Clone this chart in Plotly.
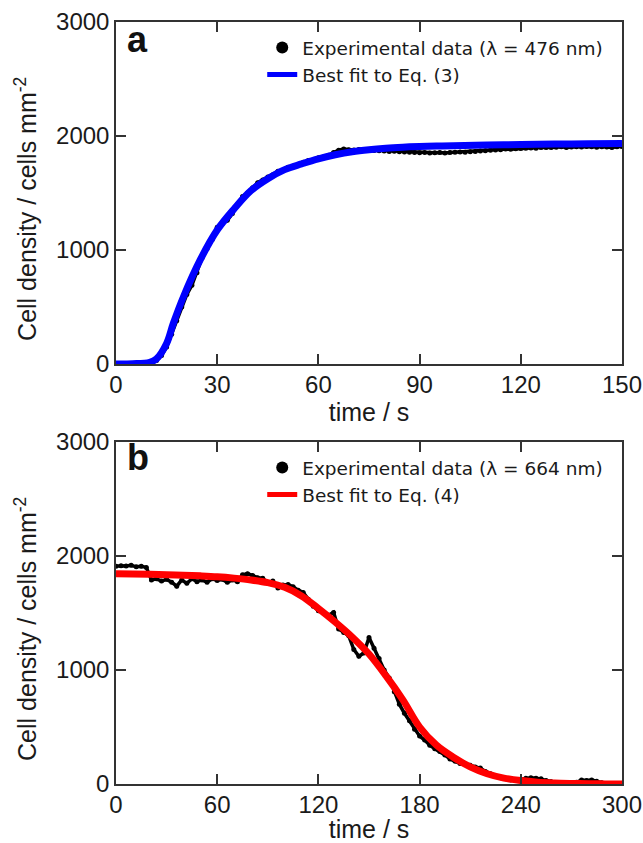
import plotly.graph_objects as go
from plotly.subplots import make_subplots

# ---------------- Panel a data (λ = 476 nm) ----------------
t_a_exp = [i * 1.5 for i in range(101)]
y_a_exp = [0, 2, 0, 3, 0, 4, 2, 8, 30, 75, 150, 260, 380, 500, 610, 690, 800, 930, 1010, 1090,
           1200, 1230, 1260, 1320, 1400, 1470, 1500, 1545, 1590, 1615, 1640, 1660, 1690, 1700, 1725,
           1735, 1750, 1770, 1785, 1790, 1810, 1815, 1830, 1855, 1875, 1885, 1880, 1878, 1882, 1880,
           1875, 1872, 1870, 1868, 1865, 1866, 1862, 1860, 1858, 1855, 1852, 1855, 1850, 1852, 1855,
           1850, 1855, 1858, 1860, 1858, 1862, 1865, 1868, 1870, 1875, 1878, 1880, 1885, 1883, 1888,
           1890, 1892, 1895, 1893, 1898, 1900, 1898, 1902, 1905, 1900, 1903, 1906, 1904, 1908, 1905,
           1902, 1906, 1904, 1900, 1905, 1908]

t_a_fit = [0, 5, 10, 12, 15, 17, 20, 25, 30, 35, 40, 45, 50, 55, 60, 65, 70, 75, 80, 85, 90,
           95, 100, 110, 120, 130, 140, 150]
y_a_fit = [0, 2, 15, 45, 180, 357, 590, 915, 1175, 1360, 1520, 1625, 1705, 1755, 1800, 1835,
           1862, 1880, 1893, 1902, 1908, 1912, 1915, 1920, 1925, 1929, 1932, 1935]

# ---------------- Panel b data (λ = 664 nm) ----------------
t_b_exp = [i * 3 for i in range(101)]
y_b_exp = [1910, 1915, 1912, 1918, 1905, 1910, 1900, 1790, 1800, 1780, 1795, 1770, 1735, 1790,
           1760, 1800, 1775, 1790, 1770, 1800, 1785, 1795, 1770, 1790, 1775, 1835, 1845, 1830,
           1810, 1805, 1760, 1780, 1720, 1745, 1750, 1730, 1700, 1680, 1620, 1560, 1520, 1500,
           1480, 1505, 1360, 1330, 1300, 1180, 1120, 1150, 1285, 1190, 1100, 1000, 930, 810, 700,
           620, 555, 480, 420, 385, 340, 310, 285, 255, 220, 200, 180, 172, 165, 150, 140, 110, 90,
           70, 55, 45, 35, 30, 40, 50, 55, 50, 45, 30, 20, 10, 5, 8, 5, 15, 35, 30, 35, 25, 10, 5,
           0, 5, 0]

t_b_fit = [0, 10, 20, 30, 40, 50, 60, 70, 80, 90, 100, 110, 120, 130, 140, 150, 160, 170, 180,
           190, 200, 210, 220, 230, 240, 250, 260, 270, 280, 290, 300]
y_b_fit = [1845, 1843, 1840, 1836, 1832, 1826, 1818, 1806, 1790, 1766, 1725, 1650, 1540, 1420,
           1290, 1140, 950, 740, 500, 340, 235, 150, 90, 52, 30, 16, 9, 5, 2, 1, 0]

x_ticks_a = [0, 30, 60, 90, 120, 150]
x_ticks_b = [0, 60, 120, 180, 240, 300]
y_ticks = [0, 1000, 2000, 3000]

y_title = "Cell density / cells mm<sup>-2</sup>"
x_title = "time / s"

FONT = "Liberation Sans, Arial"
TXT = "#1a1a1a"

fig = make_subplots(rows=2, cols=1, vertical_spacing=0.1024)


def add_panel(row, t_exp, y_exp, t_fit, y_fit, exp_name, fit_name, color, leg):
    # connecting trace (gives the dense look of the measured record)
    fig.add_trace(go.Scatter(x=t_exp, y=y_exp, mode="lines",
                             line=dict(color="black", width=3.5),
                             showlegend=False, hoverinfo="skip"), row=row, col=1)
    fig.add_trace(go.Scatter(x=t_exp, y=y_exp, mode="markers",
                             marker=dict(color="black", size=5),
                             name=exp_name, legend=leg), row=row, col=1)
    fig.add_trace(go.Scatter(x=t_fit, y=y_fit, mode="lines", line_shape="spline",
                             line=dict(color=color, width=7),
                             name=fit_name, legend=leg), row=row, col=1)


add_panel(1, t_a_exp, y_a_exp, t_a_fit, y_a_fit,
          "Experimental data (λ = 476 nm)", "Best fit to Eq. (3)", "#0000ff", "legend")
add_panel(2, t_b_exp, y_b_exp, t_b_fit, y_b_fit,
          "Experimental data (λ = 664 nm)", "Best fit to Eq. (4)", "#ff0000", "legend2")

axis_common = dict(showline=True, linecolor="#333333", linewidth=1.5, mirror="ticks",
                   ticks="inside", ticklen=10, tickwidth=1.5, tickcolor="#333333",
                   showgrid=False, zeroline=False, automargin=False,
                   ticklabeloverflow="allow",
                   tickfont=dict(family=FONT, size=24, color=TXT))

fig.update_xaxes(range=[0, 150], tickvals=x_ticks_a, row=1, col=1, **axis_common,
                 ticklabelstandoff=-2,
                 title=dict(text=x_title, standoff=1, font=dict(family=FONT, size=25, color=TXT)))
fig.update_xaxes(range=[0, 300], tickvals=x_ticks_b, row=2, col=1, **axis_common,
                 ticklabelstandoff=-2,
                 title=dict(text=x_title, standoff=0, font=dict(family=FONT, size=25, color=TXT)))
for r in (1, 2):
    fig.update_yaxes(range=[0, 3000], tickvals=y_ticks, row=r, col=1, **axis_common)

legend_common = dict(font=dict(family="DejaVu Sans", size=18.5, color=TXT),
                     bgcolor="rgba(0,0,0,0)", itemsizing="constant",
                     xanchor="left", yanchor="top", xref="paper", yref="paper")

annotations = []
for yc in (0.7546, 0.2034):
    annotations.append(dict(text=y_title, x=-0.178, y=yc, xref="paper", yref="paper",
                            xanchor="center", yanchor="middle", textangle=-90,
                            showarrow=False, font=dict(family=FONT, size=25, color=TXT)))
for lab, yc in (("a", 0.9764), ("b", 0.4285)):
    annotations.append(dict(text="<b>" + lab + "</b>", x=0.018, y=yc, xref="paper",
                            yref="paper", xanchor="left", yanchor="middle", showarrow=False,
                            font=dict(family=FONT, size=36, color="#111111")))

fig.update_layout(
    width=643, height=843,
    margin=dict(l=116, r=21, t=22, b=59, autoexpand=False),
    plot_bgcolor="white", paper_bgcolor="white",
    legend=dict(x=0.289, y=0.9908, **legend_common),
    legend2=dict(x=0.289, y=0.4396, **legend_common),
    annotations=annotations,
)

fig.write_html("out.html", config={"displayModeBar": False},
               post_script="document.body.style.margin='0';"
                           "document.body.style.overflow='hidden';")
